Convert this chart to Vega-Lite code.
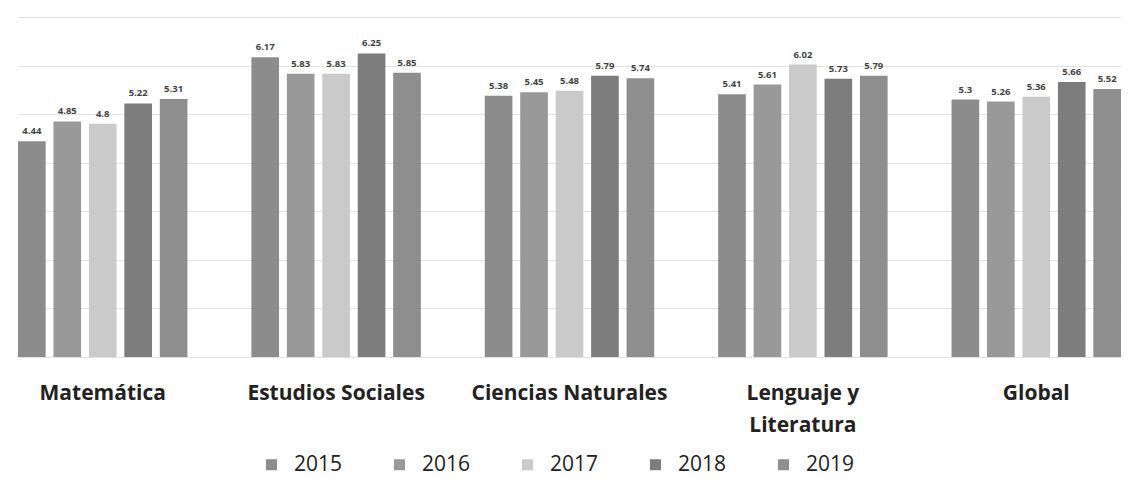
{
  "$schema": "https://vega.github.io/schema/vega-lite/v6.json",
  "autosize": {"type": "none"},
  "padding": {"left": 18, "top": 17, "right": 10, "bottom": 123},
  "width": 1103,
  "height": 340,
  "background": "white",
  "data": {"values": [
    {"area": "Matemática", "year": "2015", "value": 4.44},
    {"area": "Matemática", "year": "2016", "value": 4.85},
    {"area": "Matemática", "year": "2017", "value": 4.8},
    {"area": "Matemática", "year": "2018", "value": 5.22},
    {"area": "Matemática", "year": "2019", "value": 5.31},
    {"area": "Estudios Sociales", "year": "2015", "value": 6.17},
    {"area": "Estudios Sociales", "year": "2016", "value": 5.83},
    {"area": "Estudios Sociales", "year": "2017", "value": 5.83},
    {"area": "Estudios Sociales", "year": "2018", "value": 6.25},
    {"area": "Estudios Sociales", "year": "2019", "value": 5.85},
    {"area": "Ciencias Naturales", "year": "2015", "value": 5.38},
    {"area": "Ciencias Naturales", "year": "2016", "value": 5.45},
    {"area": "Ciencias Naturales", "year": "2017", "value": 5.48},
    {"area": "Ciencias Naturales", "year": "2018", "value": 5.79},
    {"area": "Ciencias Naturales", "year": "2019", "value": 5.74},
    {"area": "Lenguaje y Literatura", "year": "2015", "value": 5.41},
    {"area": "Lenguaje y Literatura", "year": "2016", "value": 5.61},
    {"area": "Lenguaje y Literatura", "year": "2017", "value": 6.02},
    {"area": "Lenguaje y Literatura", "year": "2018", "value": 5.73},
    {"area": "Lenguaje y Literatura", "year": "2019", "value": 5.79},
    {"area": "Global", "year": "2015", "value": 5.3},
    {"area": "Global", "year": "2016", "value": 5.26},
    {"area": "Global", "year": "2017", "value": 5.36},
    {"area": "Global", "year": "2018", "value": 5.66},
    {"area": "Global", "year": "2019", "value": 5.52}
  ]},
  "encoding": {
    "x": {
      "field": "area", "type": "nominal", "sort": null,
      "scale": {"paddingInner": 0.274, "paddingOuter": 0},
      "axis": {
        "title": null, "domain": false, "ticks": false, "labelAngle": 0,
        "labelFont": "Open Sans", "labelFontWeight": "bold", "labelFontSize": 21,
        "labelColor": "#222222", "labelPadding": 25, "labelLineHeight": 32, "labelLimit": 400,
        "labelExpr": "datum.label == 'Lenguaje y Literatura' ? ['Lenguaje y', 'Literatura'] : datum.label"
      }
    },
    "xOffset": {"field": "year", "type": "nominal", "scale": {"paddingInner": 0.22, "paddingOuter": 0}},
    "y": {
      "field": "value", "type": "quantitative",
      "scale": {"domain": [0, 7], "nice": false},
      "axis": {"title": null, "labels": false, "ticks": false, "domain": false, "tickCount": 7, "gridColor": "#e2e2e2", "gridWidth": 1}
    }
  },
  "layer": [
    {
      "mark": {"type": "bar"},
      "encoding": {
        "color": {
          "field": "year", "type": "nominal",
          "scale": {"domain": ["2015", "2016", "2017", "2018", "2019"], "range": ["#8c8c8c", "#999999", "#cacaca", "#7d7d7d", "#8e8e8e"]},
          "legend": {
            "title": null, "orient": "none", "direction": "horizontal", "columns": 5,
            "legendX": 243, "legendY": 437, "padding": 0,
            "symbolType": "square", "symbolSize": 121, "symbolStrokeWidth": 0,
            "labelFont": "Open Sans", "labelFontSize": 21, "labelColor": "#222222",
            "columnPadding": 46, "labelOffset": 12
          }
        }
      }
    },
    {
      "mark": {"type": "text", "baseline": "bottom", "dy": -5, "font": "Open Sans", "fontWeight": "bold", "fontSize": 9.5, "color": "#444444"},
      "encoding": {"text": {"field": "value", "type": "quantitative"}}
    }
  ],
  "config": {"view": {"stroke": null}}
}
